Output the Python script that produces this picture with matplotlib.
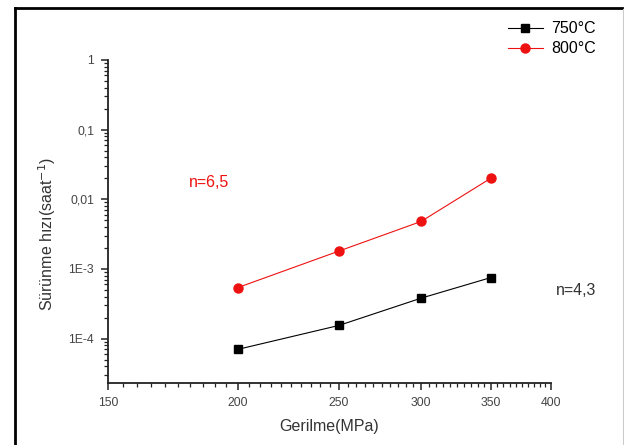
import matplotlib
matplotlib.use("Agg")
import matplotlib.pyplot as plt
from matplotlib.ticker import FixedLocator, FixedFormatter, LogLocator, NullFormatter
from matplotlib.lines import Line2D

stress = [200, 250, 300, 350]
rate_750 = [7.0e-5, 1.54e-4, 3.8e-4, 7.5e-4]
rate_800 = [5.4e-4, 1.8e-3, 4.8e-3, 2.0e-2]
x_ticks = [150, 200, 250, 300, 350, 400]
y_ticks = [1e-4, 1e-3, 1e-2, 1e-1, 1]
y_tick_labels = ["1E-4", "1E-3", "0,01", "0,1", "1"]

plt.rcParams['font.family'] = ['Liberation Sans', 'DejaVu Sans']

fig = plt.figure(figsize=(6.24, 4.45), dpi=100)
ax = fig.add_axes([108/624, 1-383/445, 443/624, 323/445])

ax.plot(stress, rate_750, color='black', marker='s', markersize=6, linewidth=0.8, label='750°C')
ax.plot(stress, rate_800, color='#ee1111', marker='o', markersize=6.5, linewidth=0.8, label='800°C')

ax.set_xscale('log')
ax.set_yscale('log')
ax.set_xlim(150, 400)
ax.set_ylim(2.3e-5, 1)

ax.xaxis.set_major_locator(FixedLocator(x_ticks))
ax.xaxis.set_major_formatter(FixedFormatter([str(v) for v in x_ticks]))
ax.xaxis.set_minor_locator(FixedLocator(list(range(155, 400, 5))))
ax.xaxis.set_minor_formatter(NullFormatter())

ax.yaxis.set_major_locator(FixedLocator(y_ticks))
ax.yaxis.set_major_formatter(FixedFormatter(y_tick_labels))
ax.yaxis.set_minor_locator(LogLocator(base=10, subs=range(2, 10)))
ax.yaxis.set_minor_formatter(NullFormatter())

for s in ['top', 'right']:
    ax.spines[s].set_visible(False)
for s in ['left', 'bottom']:
    ax.spines[s].set_linewidth(1.3)
    ax.spines[s].set_color('#222222')

ax.tick_params(which='major', direction='out', length=5, width=1.1, colors='#222222',
               labelsize=8.8, labelcolor='#444444', pad=5)
ax.tick_params(which='minor', direction='out', length=3, width=0.9, colors='#222222')

ax.set_xlabel('Gerilme(MPa)', fontsize=11.5, color='#333333', labelpad=7)
ax.set_ylabel('Sürünme hızı(saat$^{-1}$)', fontsize=11.5, color='#333333')
ax.yaxis.set_label_coords(-0.112, 0.462)

ax.text(0.228, 0.622, 'n=6,5', transform=ax.transAxes, color='#ee1111', fontsize=11.5,
        ha='center', va='center')
ax.text(1.056, 0.285, 'n=4,3', transform=ax.transAxes, color='#333333', fontsize=11.5,
        ha='center', va='center', clip_on=False)

fig.legend(loc='upper right', bbox_to_anchor=(602/624, 1-15/445), frameon=False,
           fontsize=11.5, handlelength=2.2, handletextpad=0.5, labelspacing=0.3,
           borderaxespad=0)

# figure border
fig.add_artist(Line2D([15/624, 15/624], [-0.01, 1-7.5/445], transform=fig.transFigure,
                      color='black', linewidth=2))
fig.add_artist(Line2D([15/624, 622/624], [1-7.5/445, 1-7.5/445], transform=fig.transFigure,
                      color='black', linewidth=2))
fig.add_artist(Line2D([622.5/624, 622.5/624], [-0.01, 1-8.5/445], transform=fig.transFigure,
                      color='#cccccc', linewidth=0.8))

fig.savefig('out.png', dpi=100)
